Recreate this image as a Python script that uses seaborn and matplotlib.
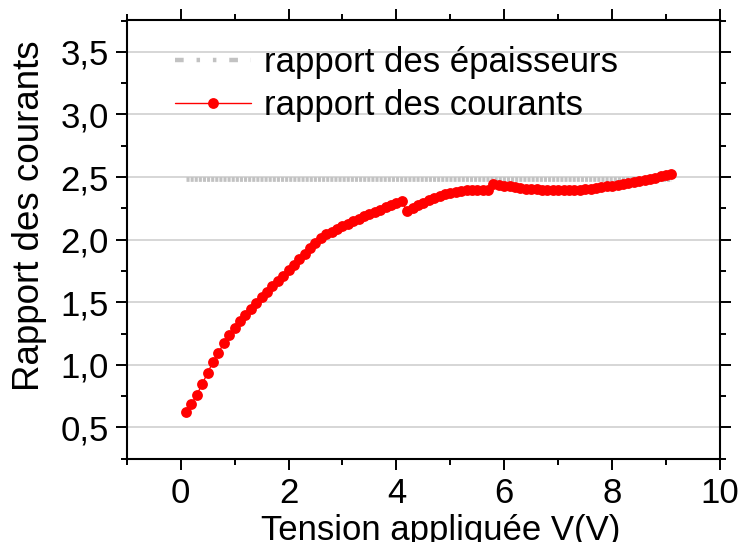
import numpy as np
import pandas as pd
import matplotlib
matplotlib.use("Agg")
import matplotlib.pyplot as plt
from matplotlib.lines import Line2D
from matplotlib.ticker import MultipleLocator, FuncFormatter
import seaborn as sns

# Applied voltage grid (V)
tension = np.round(np.arange(0.1, 9.15, 0.1), 1)

# Measured current ratio at each voltage step
rapport_courants = [
    0.625, 0.686, 0.760, 0.846, 0.936, 1.022, 1.096, 1.171, 1.235, 1.291,
    1.347, 1.400, 1.447, 1.495, 1.538, 1.583, 1.629, 1.668, 1.710, 1.760,
    1.800, 1.842, 1.885, 1.930, 1.975, 2.015, 2.045, 2.065, 2.087, 2.108,
    2.128, 2.148, 2.166, 2.185, 2.204, 2.222, 2.240, 2.257, 2.273, 2.289,
    2.305, 2.230, 2.252, 2.275, 2.296, 2.315, 2.333, 2.350, 2.364, 2.375,
    2.384, 2.390, 2.394, 2.397, 2.399, 2.400, 2.400, 2.447, 2.440, 2.432,
    2.425, 2.419, 2.413, 2.408, 2.404, 2.401, 2.398, 2.396, 2.395, 2.394,
    2.394, 2.395, 2.396, 2.398, 2.402, 2.406, 2.411, 2.418, 2.425, 2.432,
    2.439, 2.447, 2.455, 2.463, 2.471, 2.479, 2.487, 2.496, 2.505, 2.513,
    2.522,
]

# Thickness ratio (constant reference)
rapport_epaisseurs = 2.485

y_ticks = [0.5, 1.0, 1.5, 2.0, 2.5, 3.0, 3.5]
x_ticks = [0, 2, 4, 6, 8, 10]

df = pd.DataFrame({
    "tension": tension,
    "courants": rapport_courants,
    "epaisseurs": [rapport_epaisseurs] * len(tension),
})

sns.set_theme(style="ticks")
plt.rcParams["font.family"] = ["Liberation Sans", "DejaVu Sans"]
plt.rcParams.update({
    "text.color": "black",
    "axes.labelcolor": "black",
    "xtick.color": "black",
    "ytick.color": "black",
    "axes.edgecolor": "black",
})

FS = 25
RED = "#ff0000"
GREY = "#c2c2c2"

fig = plt.figure(figsize=(7.4, 5.42), dpi=100)
ax = fig.add_axes([0.1712, 0.1526, 0.8018, 0.8105])

ax.set_axisbelow(True)
ax.yaxis.grid(True, color="#cccccc", linewidth=1.1)
ax.xaxis.grid(False)

sns.lineplot(data=df, x="tension", y="epaisseurs", ax=ax, color=GREY,
             linewidth=3.4, dashes=False, legend=False)
ax.lines[-1].set_dashes((0.65, 0.22))
ax.lines[-1].set_dash_capstyle("butt")

sns.lineplot(data=df, x="tension", y="courants", ax=ax, color=RED,
             linewidth=1.0, marker="o", markersize=7.8, markeredgewidth=0,
             legend=False)

ax.set_xlim(-1, 10)
ax.set_ylim(0.245, 3.755)
ax.set_xticks(x_ticks)
ax.set_yticks(y_ticks)
ax.xaxis.set_minor_locator(MultipleLocator(1))
ax.yaxis.set_minor_locator(MultipleLocator(0.25))
ax.yaxis.set_major_formatter(FuncFormatter(lambda v, p: f"{v:.1f}".replace(".", ",")))

for s in ax.spines.values():
    s.set_visible(True)
    s.set_linewidth(1.5)
    s.set_color("black")

ax.tick_params(which="both", direction="out", top=True, right=True,
               labeltop=False, labelright=False, width=1.4, color="black")
ax.tick_params(which="major", length=8, labelsize=FS, pad=5, labelcolor="black")
ax.tick_params(which="minor", length=4)

ax.set_xlabel("Tension appliquée V(V)", fontsize=FS, color="black")
ax.set_ylabel("Rapport des courants", fontsize=26.5, color="black")
ax.xaxis.set_label_coords(0.53, -0.124)
ax.yaxis.set_label_coords(-0.135, 0.555)

handles = [
    Line2D([], [], color=GREY, linewidth=3.2, dashes=(1.95, 2.9, 0.78, 2.9, 0.78, 2.9),
           dash_capstyle="butt"),
    Line2D([], [], color=RED, linewidth=1.0, marker="o", markersize=7.8,
           markeredgewidth=0),
]
leg = ax.legend(handles, ["rapport des épaisseurs", "rapport des courants"],
                loc="upper left", bbox_to_anchor=(0.081, 0.94), frameon=False,
                fontsize=FS, handlelength=2.2, handletextpad=0.37,
                borderpad=0, borderaxespad=0, labelspacing=0.29,
                labelcolor="black")

fig.savefig("out.png", dpi=100)
